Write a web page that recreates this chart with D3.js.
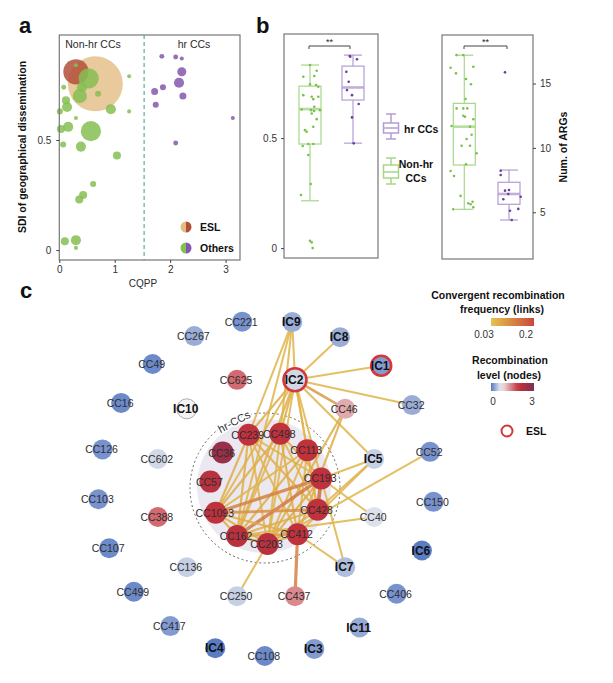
<!DOCTYPE html>
<html><head><meta charset="utf-8">
<script src="https://cdn.jsdelivr.net/npm/d3@7"></script>
<style>
body{margin:0;background:#fff;}
svg{font-family:"Liberation Sans",Arial,sans-serif;}
</style></head><body>
<svg id="chart" width="613" height="683"></svg>
<script>
// ---------- Panel a data ----------
const eslCQPP = [0.65, 0.30];
const eslSDI  = [0.755, 0.81];
const eslSize = [740, 156];
const nonhrCQPP = [0.30,0.53,0.41,0.37,0.70,0.08,1.26,0.12,0.14,0.01,0.93,1.26,0.30,0.16,0.03,0.57,0.07,0.39,1.04,0.61,0.43,0.36,0.10,0.30,0.30];
const nonhrSDI  = [0.84,0.78,0.74,0.70,0.71,0.74,0.79,0.68,0.65,0.63,0.64,0.63,0.60,0.56,0.55,0.54,0.48,0.47,0.43,0.30,0.25,0.23,0.04,0.045,0.01];
const nonhrSize = [4,100,25,50,9,6,4,16,25,9,25,4,4,25,16,100,9,25,16,9,16,16,16,25,4];
const hrCQPP = [1.85,2.10,2.21,2.21,2.16,1.87,1.72,2.23,1.74,3.13,2.10];
const hrSDI  = [0.88,0.877,0.87,0.81,0.76,0.74,0.72,0.70,0.66,0.60,0.486];
const hrSize = [6,6,4,20,25,9,12,12,9,4,6];
const cqppTicks = [0,1,2,3];
const sdiTicks = [0,0.5];

// ---------- Panel b data ----------
const bGroups = ["Non-hr CCs","hr CCs"];
const sdiMin=[0.215,0.477], sdiQ1=[0.473,0.673], sdiMed=[0.632,0.73], sdiQ3=[0.736,0.827], sdiMax=[0.832,0.877];
const argMin=[5.23,4.40], argQ1=[8.67,5.62], argMed=[11.65,6.42], argQ3=[13.46,7.33], argMax=[17.2,8.28];
const sdiNonhr=[0.832,0.779,0.806,0.782,0.744,0.741,0.733,0.695,0.688,0.677,0.688,0.642,0.630,0.627,0.623,0.627,0.612,0.586,0.536,0.529,0.551,0.473,0.473,0.464,0.423,0.291,0.241,0.033,0.026,0];
const sdiNonhrJit=[0,-0.67,0.67,0.43,0,0.6,0.83,-0.67,0.17,0.33,0.83,0.43,-0.83,0.1,0.4,1.0,0.17,0.67,-0.5,-0.33,0.33,-0.17,0.33,-0.73,-0.17,0.07,-0.9,0,0.17,0.27];
const sdiHr=[0.870,0.858,0.801,0.756,0.718,0.695,0.655,0.594,0.476,0.873];
const sdiHrJit=[-0.27,0.4,-0.67,-0.43,-0.6,-0.1,0.57,-0.1,0.07,-0.33];
const argNonhr=[17.21,17.21,16.23,15.79,16.30,15.35,14.94,13.80,13.07,13.07,13.07,12.42,12.50,12.22,11.70,11.65,11.02,10.69,10.17,10.17,9.58,8.73,8.21,7.82,6.27,5.70,5.82,5.23,5.39,5.62];
const argNonhrJit=[-0.77,-0.1,-1.37,-0.83,0.9,0.17,0.67,0.13,-0.77,-0.1,0.3,0.07,-0.1,0.9,-1.27,0.57,0.73,0.23,0.57,-0.27,1.23,0.17,-1.37,-1.03,-0.37,0.4,0.83,-1.1,0.9,0.63];
const argHr=[15.87,8.23,7.90,6.68,6.73,6.42,6.21,6.01,5.12,5.26,4.40];
const argHrJit=[-0.4,-0.83,-0.83,-0.4,0,-0.07,1.17,-0.57,0.1,0.93,0.27];
const argTicks=[5,10,15];

// ---------- Panel c data ----------
const innerNodes = ["CC239","CC498","CC113","CC193","CC428","CC412","CC203","CC162","CC1093","CC57","CC36"];
const innerLevel = [2.0,2.0,1.95,2.0,2.0,2.0,2.05,2.05,2.0,2.1,2.6];
const middleNodes = ["IC2","CC46","IC5","CC40","IC7","CC437","CC250","CC136","CC388","CC602","IC10","CC625"];
const middleLevel = [0.55,1.15,0.5,0.6,0.4,1.35,0.5,0.5,1.55,0.55,0.7,1.55];
const outerNodes = ["IC9","IC8","IC1","CC32","CC52","CC150","IC6","CC406","IC11","IC3","CC108","IC4","CC417","CC499","CC107","CC103","CC126","CC16","CC49","CC267","CC221"];
const outerLevel = [0.3,0.3,0.2,0.3,0.15,0.15,0.02,0.15,0.28,0.2,0.1,0.02,0.2,0.1,0.1,0.15,0.15,0.1,0.1,0.3,0.15];
const eslNodes = ["IC1","IC2"];
const edgeSource = ["IC2","IC2","IC2","IC2","IC2","IC2","IC2","IC2","IC2","IC2","IC2","IC2","IC2","IC2",
  "IC9","IC9","IC9","CC46","CC46","IC5","IC5","IC5","CC52","CC40","CC40","IC7","IC7","CC437","CC250",
  "CC239","CC239","CC239","CC239","CC239","CC239","CC498","CC498","CC498","CC498","CC498","CC498",
  "CC113","CC113","CC113","CC113","CC113","CC193","CC193","CC193","CC193","CC428","CC428","CC428",
  "CC412","CC412","CC1093","CC162","CC203","CC1093"];
const edgeTarget = ["IC9","IC8","IC1","CC32","CC46","IC5","CC239","CC498","CC113","CC193","CC428","CC162","CC1093","CC203",
  "CC239","CC498","CC162","CC203","CC412","CC193","CC428","CC412","CC203","CC193","CC162","CC412","CC193","CC412","CC203",
  "CC1093","CC162","CC203","CC412","CC428","CC193","CC1093","CC162","CC203","CC412","CC428","CC193",
  "CC1093","CC162","CC203","CC412","CC428","CC1093","CC162","CC203","CC428","CC1093","CC162","CC203",
  "CC1093","CC162","CC162","CC203","CC412","CC203"];
const edgeFreq = [0.05,0.05,0.05,0.05,0.09,0.05,0.06,0.06,0.05,0.05,0.05,0.06,0.05,0.05,
  0.05,0.05,0.05,0.06,0.06,0.05,0.05,0.05,0.05,0.05,0.05,0.05,0.05,0.12,0.05,
  0.06,0.06,0.05,0.05,0.06,0.05,0.06,0.05,0.05,0.06,0.05,0.06,
  0.05,0.06,0.05,0.05,0.05,0.12,0.13,0.06,0.15,0.10,0.06,0.06,
  0.06,0.08,0.06,0.08,0.06,0.06];
const freqLegendTicks = [0.03,0.2];
const levelLegendTicks = [0,3];

// ---------- Drawing ----------
const svg = d3.select("#chart");
const txt = "#2a2a2a";

// panel letters
[["a",19,33],["b",256,33],["c",20,298]].forEach(([t,x,y])=>{
  svg.append("text").attr("x",x).attr("y",y).text(t).attr("font-size",22).attr("font-weight","bold").attr("fill","#111");
});

function styleAxis(g){
  g.select(".domain").remove();
  g.selectAll(".tick line").attr("stroke","#444");
  g.selectAll(".tick text").attr("fill","#333").attr("font-size",10).attr("font-family","Liberation Sans, Arial, sans-serif");
}

// ===== Panel a =====
const ax = d3.scaleLinear().domain([0,3.26]).range([59.3,240]);
const ay = d3.scaleLinear().domain([-0.045,0.977]).range([260,35]);
const ar = d3.scaleSqrt().domain([0,740]).range([0,27.5]);
const gA = svg.append("g");
gA.append("line").attr("x1",ax(1.53)).attr("x2",ax(1.53)).attr("y1",35).attr("y2",260)
  .attr("stroke","#3c9a8c").attr("stroke-dasharray","4,3").attr("stroke-width",1);
// ESL tan
gA.append("circle").attr("cx",ax(eslCQPP[0])).attr("cy",ay(eslSDI[0])).attr("r",ar(eslSize[0])).attr("fill","#e2bd83").attr("opacity",0.8);
gA.append("circle").attr("cx",ax(eslCQPP[1])).attr("cy",ay(eslSDI[1])).attr("r",ar(eslSize[1])).attr("fill","#b14f3a").attr("opacity",0.85);
gA.selectAll(".nh").data(d3.range(nonhrCQPP.length)).join("circle")
  .attr("cx",i=>ax(nonhrCQPP[i])).attr("cy",i=>ay(nonhrSDI[i])).attr("r",i=>ar(nonhrSize[i]))
  .attr("fill","#85c052").attr("opacity",0.85);
gA.selectAll(".hr").data(d3.range(hrCQPP.length)).join("circle")
  .attr("cx",i=>ax(hrCQPP[i])).attr("cy",i=>ay(hrSDI[i])).attr("r",i=>ar(hrSize[i]))
  .attr("fill","#8458ae").attr("opacity",0.85);
gA.append("rect").attr("x",59.3).attr("y",35).attr("width",240-59.3).attr("height",225)
  .attr("fill","none").attr("stroke","#777").attr("stroke-width",1.2);
gA.append("g").attr("transform","translate(0,260)")
  .call(d3.axisBottom(ax).tickValues(cqppTicks).tickSize(3).tickPadding(3).tickFormat(d3.format("d"))).call(styleAxis);
gA.append("g").attr("transform","translate(59.3,0)")
  .call(d3.axisLeft(ay).tickValues(sdiTicks).tickSize(3).tickPadding(5).tickFormat(d=>d===0?"0":"0.5")).call(styleAxis);
gA.append("text").attr("x",93).attr("y",48).attr("text-anchor","middle").attr("font-size",10.5).attr("fill",txt).text("Non-hr CCs");
gA.append("text").attr("x",194).attr("y",48).attr("text-anchor","middle").attr("font-size",10.5).attr("fill",txt).text("hr CCs");
gA.append("text").attr("x",143).attr("y",287).attr("text-anchor","middle").attr("font-size",10).attr("fill",txt).text("CQPP");
gA.append("text").attr("transform","translate(26,147) rotate(-90)").attr("text-anchor","middle")
  .attr("font-size",10.5).attr("font-weight","bold").attr("fill","#111").text("SDI of geographical dissemination");
// legend a
function halfCircle(g,cx,cy,r,cl,cr){
  g.append("path").attr("d",`M${cx},${cy-r} A${r},${r} 0 0 0 ${cx},${cy+r} Z`).attr("fill",cl);
  g.append("path").attr("d",`M${cx},${cy-r} A${r},${r} 0 0 1 ${cx},${cy+r} Z`).attr("fill",cr);
}
halfCircle(gA,186,227,5.5,"#e2bd83","#b14f3a");
halfCircle(gA,186,248,5.5,"#85c052","#8458ae");
gA.append("text").attr("x",200).attr("y",231).attr("font-size",10.5).attr("font-weight","bold").attr("fill","#111").text("ESL");
gA.append("text").attr("x",200).attr("y",252).attr("font-size",10.5).attr("font-weight","bold").attr("fill","#111").text("Others");

// ===== Panel b =====
const greenBox="#a6d789", purpleBox="#b49dd3", greenPt="#7cc04c", purplePt="#6a3f9e";
function drawBoxPanel(g, xScale, yScale, mins,q1s,meds,q3s,maxs, colors){
  bGroups.forEach((grp,i)=>{
    const cx=xScale(grp), c=colors[i], hw=11, cw=9;
    g.append("line").attr("x1",cx).attr("x2",cx).attr("y1",yScale(maxs[i])).attr("y2",yScale(q3s[i])).attr("stroke",c).attr("stroke-width",1.2);
    g.append("line").attr("x1",cx).attr("x2",cx).attr("y1",yScale(q1s[i])).attr("y2",yScale(mins[i])).attr("stroke",c).attr("stroke-width",1.2);
    [maxs[i],mins[i]].forEach(v=>g.append("line").attr("x1",cx-cw).attr("x2",cx+cw).attr("y1",yScale(v)).attr("y2",yScale(v)).attr("stroke",c).attr("stroke-width",1.2));
    g.append("rect").attr("x",cx-hw).attr("y",yScale(q3s[i])).attr("width",2*hw).attr("height",yScale(q1s[i])-yScale(q3s[i]))
      .attr("fill","#fff").attr("fill-opacity",0.3).attr("stroke",c).attr("stroke-width",1.2);
    g.append("line").attr("x1",cx-hw).attr("x2",cx+hw).attr("y1",yScale(meds[i])).attr("y2",yScale(meds[i])).attr("stroke",c).attr("stroke-width",2.6).attr("opacity",0.8);
  });
}
function drawPts(g,cx,vals,jit,yScale,color){
  g.selectAll(null).data(d3.range(vals.length)).join("circle")
    .attr("cx",i=>cx+jit[i]*10).attr("cy",i=>yScale(vals[i])).attr("r",1.3).attr("fill",color);
}
function bracket(g,x1,x2,y){
  g.append("path").attr("d",`M${x1},${y+3}V${y}H${x2}V${y+3}`).attr("fill","none").attr("stroke","#444").attr("stroke-width",1);
  g.append("text").attr("x",(x1+x2)/2).attr("y",y-1).attr("text-anchor","middle").attr("font-size",9).attr("fill","#222").text("**");
}
// left box panel
const bx = d3.scalePoint().domain(bGroups).range([310,353]);
const by = d3.scaleLinear().domain([-0.045,0.973]).range([258,34]);
const gB = svg.append("g");
drawBoxPanel(gB,bx,by,sdiMin,sdiQ1,sdiMed,sdiQ3,sdiMax,[greenBox,purpleBox]);
drawPts(gB,bx(bGroups[0]),sdiNonhr,sdiNonhrJit,by,greenPt);
drawPts(gB,bx(bGroups[1]),sdiHr,sdiHrJit,by,purplePt);
gB.append("rect").attr("x",284).attr("y",34).attr("width",94).attr("height",224).attr("fill","none").attr("stroke","#777").attr("stroke-width",1.2);
gB.append("g").attr("transform","translate(284,0)")
  .call(d3.axisLeft(by).tickValues(sdiTicks).tickSize(3).tickPadding(4).tickFormat(d=>d===0?"0":"0.5")).call(styleAxis);
bracket(gB,309,350,46);
// right box panel
const bx2 = d3.scalePoint().domain(bGroups).range([464.3,509]);
const by2 = d3.scaleLinear().domain([1.37,18.77]).range([259,35]);
const gB2 = svg.append("g");
drawBoxPanel(gB2,bx2,by2,argMin,argQ1,argMed,argQ3,argMax,[greenBox,purpleBox]);
drawPts(gB2,bx2(bGroups[0]),argNonhr,argNonhrJit,by2,greenPt);
drawPts(gB2,bx2(bGroups[1]),argHr,argHrJit,by2,purplePt);
gB2.append("rect").attr("x",442).attr("y",35).attr("width",91).attr("height",224).attr("fill","none").attr("stroke","#777").attr("stroke-width",1.2);
gB2.append("g").attr("transform","translate(533,0)")
  .call(d3.axisRight(by2).tickValues(argTicks).tickSize(3).tickPadding(4)).call(styleAxis);
bracket(gB2,464,507,46);
gB2.append("text").attr("transform","translate(567,147) rotate(-90)").attr("text-anchor","middle")
  .attr("font-size",10.5).attr("font-weight","bold").attr("fill","#111").text("Num. of ARGs");
// legend b
function boxIcon(g,cx,top,q3,med,q1,bot,c){
  g.append("line").attr("x1",cx).attr("x2",cx).attr("y1",top).attr("y2",bot).attr("stroke",c).attr("stroke-width",1.5);
  [top,bot].forEach(y=>g.append("line").attr("x1",cx-5).attr("x2",cx+5).attr("y1",y).attr("y2",y).attr("stroke",c).attr("stroke-width",1.5));
  g.append("rect").attr("x",cx-7.5).attr("y",q3).attr("width",15).attr("height",q1-q3).attr("fill","#fff").attr("stroke",c).attr("stroke-width",1.5);
  g.append("line").attr("x1",cx-7.5).attr("x2",cx+7.5).attr("y1",med).attr("y2",med).attr("stroke",c).attr("stroke-width",1.5);
}
boxIcon(gB,391,114,123,128,133,139,purpleBox);
boxIcon(gB,391,158,165,172,178,184,greenBox);
gB.append("text").attr("x",404).attr("y",133).attr("font-size",10.5).attr("font-weight","bold").attr("fill","#111").text("hr CCs");
gB.append("text").attr("x",416).attr("y",168).attr("text-anchor","middle").attr("font-size",10.5).attr("font-weight","bold").attr("fill","#111").text("Non-hr");
gB.append("text").attr("x",416).attr("y",182).attr("text-anchor","middle").attr("font-size",10.5).attr("font-weight","bold").attr("fill","#111").text("CCs");

// ===== Panel c =====
const cx0=266, cy0=488;
const ringR = d3.scaleLinear().domain([0,2]).range([56,168]);
const levelColor = d3.scaleLinear().domain([0,0.7,1.9,3]).range(["#5678c2","#f3f3f3","#c4313b","#7d3050"]).interpolate(d3.interpolateRgb);
const freqColor = d3.scaleLinear().domain([0.03,0.2]).range(["#e4c44c","#c9483a"]);
const freqWidth = d3.scaleLinear().domain([0.03,0.2]).range([1.7,4.5]);
const rings = [[innerNodes,innerLevel,-108],[middleNodes,middleLevel,-75],[outerNodes,outerLevel,-81]];
const nodes = [];
rings.forEach(([names,levels,start],ri)=>{
  const ang = d3.scaleLinear().domain([0,names.length]).range([start,start+360]);
  names.forEach((n,i)=>{
    const a = ang(i)*Math.PI/180;
    nodes.push({name:n, level:levels[i], ring:ri, x:cx0+ringR(ri)*Math.cos(a), y:cy0+ringR(ri)*Math.sin(a)});
  });
});
const nodeBy = new Map(nodes.map(d=>[d.name,d]));
const gC = svg.append("g");
// shaded hr-CC area and dashed circle
gC.append("circle").attr("cx",cx0-2).attr("cy",cy0-2).attr("r",67).attr("fill","#ebe8f1");
gC.append("circle").attr("cx",cx0-1).attr("cy",cy0).attr("r",75).attr("fill","none").attr("stroke","#666").attr("stroke-width",1).attr("stroke-dasharray","2,2.5");
// edges
gC.selectAll(".edge").data(d3.range(edgeSource.length)).join("line")
  .attr("x1",i=>nodeBy.get(edgeSource[i]).x).attr("y1",i=>nodeBy.get(edgeSource[i]).y)
  .attr("x2",i=>nodeBy.get(edgeTarget[i]).x).attr("y2",i=>nodeBy.get(edgeTarget[i]).y)
  .attr("stroke",i=>freqColor(edgeFreq[i])).attr("stroke-width",i=>freqWidth(edgeFreq[i])).attr("opacity",0.85)
  .attr("stroke-linecap","round");
// hr-CCs label
gC.append("text").attr("transform","translate(236,425) rotate(-28)").attr("text-anchor","middle")
  .attr("font-size",11).attr("fill","#333").attr("stroke","#fff").attr("stroke-width",3).attr("paint-order","stroke").text("hr-CCs");
// nodes
gC.selectAll(".node").data(nodes).join("circle")
  .attr("cx",d=>d.x).attr("cy",d=>d.y)
  .attr("r",d=>d.name==="IC2"?11.5:(d.ring===0?11:10))
  .attr("fill",d=>levelColor(d.level))
  .attr("stroke",d=>eslNodes.includes(d.name)?"#d2393b":(d.name==="IC10"?"#9a9a9a":"none"))
  .attr("stroke-width",d=>eslNodes.includes(d.name)?2.6:0.8);
gC.selectAll(".lab").data(nodes).join("text")
  .attr("x",d=>d.x-1).attr("y",d=>d.y+4)
  .attr("text-anchor","middle")
  .attr("font-size",d=>d.name.startsWith("IC")?12:10.5)
  .attr("font-weight",d=>d.name.startsWith("IC")?"bold":"normal")
  .attr("fill",d=>d.name.startsWith("IC")?"#111":"#2e2e2e")
  .text(d=>d.name);
// legend c
const defs = svg.append("defs");
const g1 = defs.append("linearGradient").attr("id","gFreq");
[0,1].forEach(t=>g1.append("stop").attr("offset",t).attr("stop-color",freqColor(0.03+t*(0.2-0.03))));
const g2 = defs.append("linearGradient").attr("id","gLevel");
d3.range(0,1.001,0.1).forEach(t=>g2.append("stop").attr("offset",t).attr("stop-color",levelColor(t*3)));
const lg = svg.append("g");
lg.append("text").attr("x",498).attr("y",299).attr("text-anchor","middle").attr("font-size",10.5).attr("font-weight","bold").attr("fill","#111").text("Convergent recombination");
lg.append("text").attr("x",502).attr("y",313).attr("text-anchor","middle").attr("font-size",10.5).attr("font-weight","bold").attr("fill","#111").text("frequency (links)");
lg.append("rect").attr("x",491).attr("y",318).attr("width",43).attr("height",8).attr("fill","url(#gFreq)");
const fx = d3.scaleLinear().domain([0.03,0.2]).range([484,526]);
freqLegendTicks.forEach(v=>lg.append("text").attr("x",fx(v)).attr("y",338).attr("text-anchor","middle").attr("font-size",10).attr("fill","#333").text(v));
lg.append("text").attr("x",510).attr("y",364).attr("text-anchor","middle").attr("font-size",10.5).attr("font-weight","bold").attr("fill","#111").text("Recombination");
lg.append("text").attr("x",509).attr("y",379).attr("text-anchor","middle").attr("font-size",10.5).attr("font-weight","bold").attr("fill","#111").text("level (nodes)");
lg.append("rect").attr("x",491).attr("y",383).attr("width",43).attr("height",8).attr("fill","url(#gLevel)");
const lx = d3.scaleLinear().domain([0,3]).range([493,532]);
levelLegendTicks.forEach(v=>lg.append("text").attr("x",lx(v)).attr("y",405).attr("text-anchor","middle").attr("font-size",10).attr("fill","#333").text(v));
lg.append("circle").attr("cx",507).attr("cy",431).attr("r",5.5).attr("fill","#fff").attr("stroke","#d2393b").attr("stroke-width",2);
lg.append("text").attr("x",526).attr("y",435).attr("font-size",10.5).attr("font-weight","bold").attr("fill","#111").text("ESL");
</script></body></html>
